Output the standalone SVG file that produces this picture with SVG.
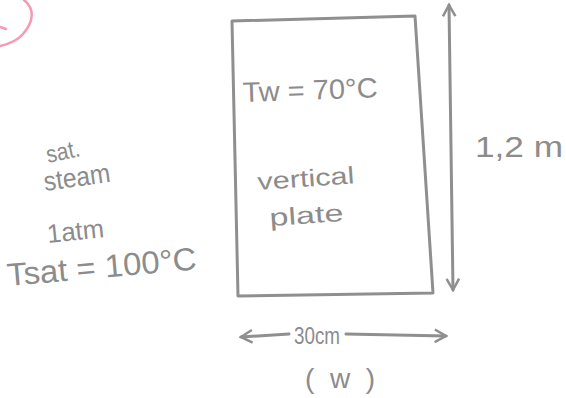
<svg xmlns="http://www.w3.org/2000/svg" width="566" height="398" viewBox="0 0 566 398">
<style>
.t{font-family:"Liberation Sans",Arial,sans-serif;fill:#8c8c8c;font-weight:normal}
.ln{fill:none;stroke:#8f8f8f;stroke-width:3;stroke-linecap:round;stroke-linejoin:round}
</style>
<defs>
<marker id="ah" viewBox="0 0 12 12" refX="10" refY="6" markerWidth="5" markerHeight="5" orient="auto-start-reverse" markerUnits="strokeWidth">
<path d="M1,1 L10,6 L1,11" fill="none" stroke="#8f8f8f" stroke-width="2"/>
</marker>
</defs>
<rect width="566" height="398" fill="#ffffff"/>
<g id="mark">
<path d="M24,0 C34,8 35,20 23,34 C17,41 9,44 0,46" fill="none" stroke="#f59ab2" stroke-width="2.5" stroke-linecap="round"/>
<path d="M0,27 L6,29" fill="none" stroke="#f59ab2" stroke-width="2.5" stroke-linecap="round"/>
</g>
<g id="plate">
<path class="ln" d="M232,21 L415,16 L433,293 L238,296 Z"/>
<text class="t" x="243" y="102" font-size="28" textLength="135" lengthAdjust="spacingAndGlyphs" transform="rotate(-2 243 102)">Tw = 70°C</text>
<text class="t" x="258" y="190" font-size="24" textLength="97" lengthAdjust="spacingAndGlyphs" transform="rotate(-4 258 190)">vertical</text>
<text class="t" x="270" y="226" font-size="24" textLength="74" lengthAdjust="spacingAndGlyphs" transform="rotate(-4 270 226)">plate</text>
</g>
<g id="steam">
<text class="t" x="48" y="163" font-size="24" textLength="34" lengthAdjust="spacingAndGlyphs" transform="rotate(-12 48 163)">sat.</text>
<text class="t" x="45" y="191" font-size="27" textLength="67" lengthAdjust="spacingAndGlyphs" transform="rotate(-8 45 191)">steam</text>
<text class="t" x="48" y="243" font-size="26" textLength="57" lengthAdjust="spacingAndGlyphs" transform="rotate(-6 48 243)">1atm</text>
<text class="t" x="8" y="286" font-size="32" textLength="190" lengthAdjust="spacingAndGlyphs" transform="rotate(-5 8 286)">Tsat = 100°C</text>
</g>
<g id="dims">
<text class="t" x="475" y="157" font-size="30" textLength="88" lengthAdjust="spacingAndGlyphs">1,2 m</text>
<text class="t" x="294" y="344" font-size="24" textLength="46" lengthAdjust="spacingAndGlyphs">30cm</text>
<text class="t" x="305" y="388" font-size="28" textLength="70" lengthAdjust="spacing">(w)</text>
</g>
<g id="connectors">
<path class="ln" d="M449,5 L453,290" marker-start="url(#ah)" marker-end="url(#ah)"/>
<path class="ln" d="M289,334 L241,337" marker-end="url(#ah)"/>
<path class="ln" d="M346,334 L446,336" marker-end="url(#ah)"/>
</g>
</svg>
